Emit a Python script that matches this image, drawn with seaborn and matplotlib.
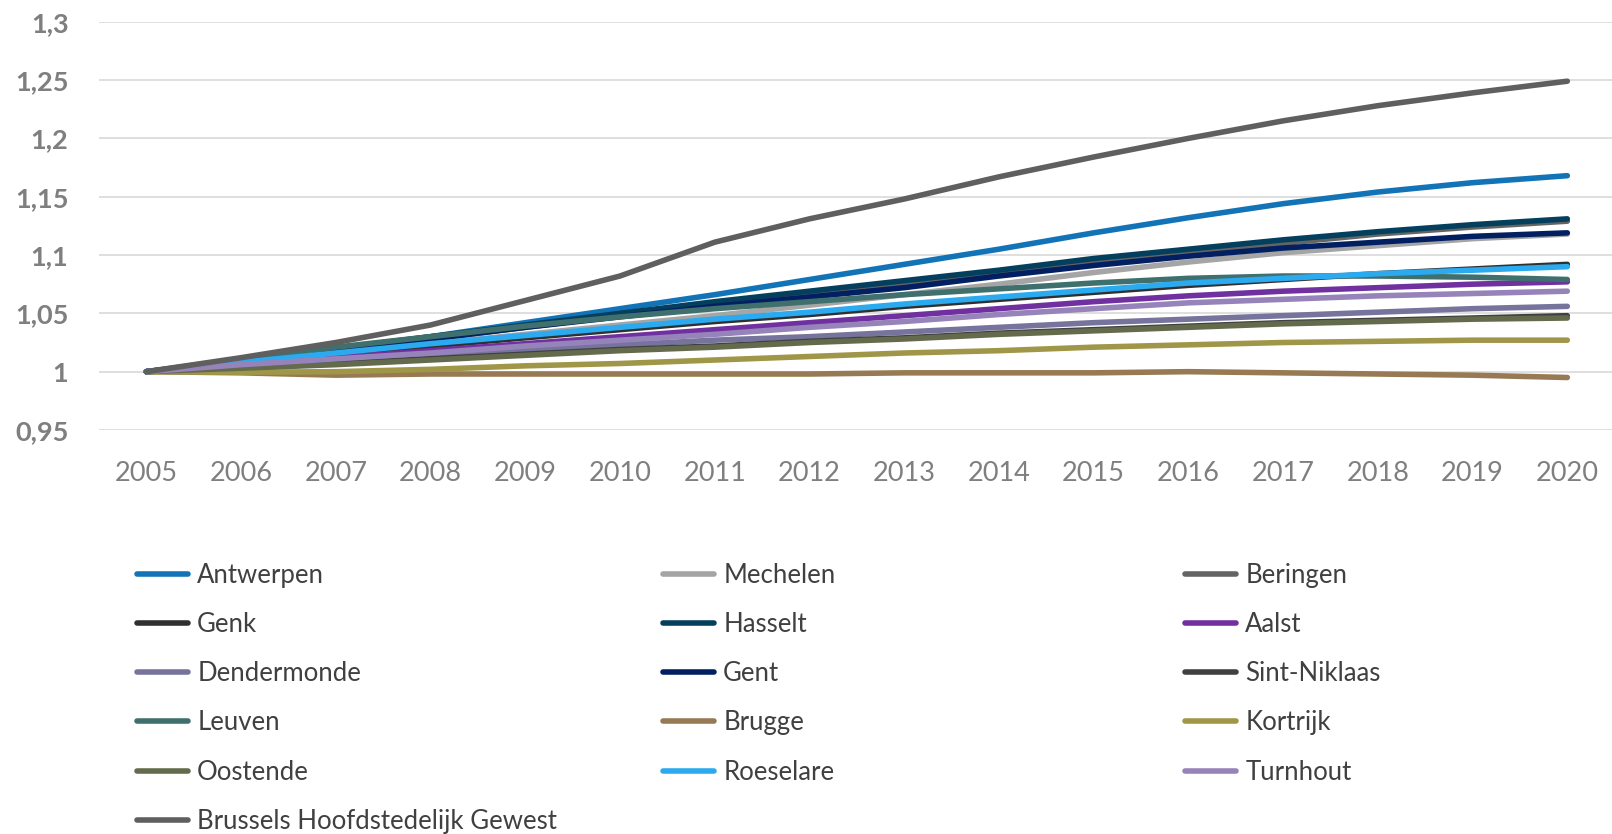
import matplotlib
matplotlib.use("Agg")
import matplotlib.pyplot as plt
from matplotlib.lines import Line2D
import seaborn as sns
import pandas as pd

years = list(range(2005, 2021))

antwerpen = [1.000, 1.009, 1.019, 1.030, 1.042, 1.054, 1.066, 1.079, 1.092, 1.105, 1.119, 1.132, 1.144, 1.154, 1.162, 1.168]
mechelen = [1.000, 1.008, 1.016, 1.024, 1.032, 1.040, 1.048, 1.057, 1.066, 1.075, 1.085, 1.094, 1.102, 1.108, 1.114, 1.118]
beringen = [1.000, 1.009, 1.019, 1.028, 1.038, 1.048, 1.057, 1.066, 1.075, 1.084, 1.093, 1.102, 1.110, 1.118, 1.124, 1.129]
genk = [1.000, 1.007, 1.014, 1.022, 1.029, 1.036, 1.043, 1.049, 1.056, 1.062, 1.068, 1.074, 1.079, 1.084, 1.088, 1.092]
hasselt = [1.000, 1.010, 1.020, 1.030, 1.040, 1.050, 1.060, 1.069, 1.078, 1.087, 1.097, 1.105, 1.113, 1.120, 1.126, 1.131]
aalst = [1.000, 1.006, 1.012, 1.018, 1.024, 1.030, 1.036, 1.042, 1.048, 1.054, 1.060, 1.065, 1.069, 1.072, 1.075, 1.077]
dendermonde = [1.000, 1.004, 1.009, 1.014, 1.019, 1.023, 1.027, 1.030, 1.034, 1.038, 1.042, 1.045, 1.048, 1.051, 1.054, 1.056]
gent = [1.000, 1.009, 1.019, 1.028, 1.038, 1.047, 1.056, 1.064, 1.072, 1.082, 1.091, 1.099, 1.106, 1.111, 1.116, 1.119]
sint_niklaas = [1.000, 1.003, 1.007, 1.011, 1.015, 1.019, 1.022, 1.026, 1.029, 1.033, 1.036, 1.039, 1.042, 1.044, 1.046, 1.048]
leuven = [1.000, 1.011, 1.021, 1.030, 1.039, 1.047, 1.054, 1.060, 1.066, 1.071, 1.076, 1.080, 1.082, 1.082, 1.081, 1.079]
brugge = [1.000, 0.999, 0.997, 0.998, 0.998, 0.998, 0.998, 0.998, 0.999, 0.999, 0.999, 1.000, 0.999, 0.998, 0.997, 0.995]
kortrijk = [1.000, 0.9995, 1.000, 1.002, 1.005, 1.007, 1.010, 1.013, 1.016, 1.018, 1.021, 1.023, 1.025, 1.026, 1.027, 1.027]
oostende = [1.000, 1.003, 1.006, 1.010, 1.014, 1.018, 1.021, 1.025, 1.028, 1.032, 1.035, 1.038, 1.041, 1.043, 1.045, 1.046]
roeselare = [1.000, 1.008, 1.016, 1.024, 1.031, 1.038, 1.045, 1.051, 1.058, 1.064, 1.070, 1.076, 1.080, 1.084, 1.087, 1.090]
turnhout = [1.000, 1.006, 1.011, 1.016, 1.022, 1.027, 1.032, 1.038, 1.043, 1.049, 1.054, 1.059, 1.062, 1.065, 1.067, 1.069]
brussel = [1.000, 1.012, 1.025, 1.040, 1.061, 1.082, 1.111, 1.131, 1.148, 1.167, 1.184, 1.200, 1.215, 1.228, 1.239, 1.249]

regions = ["Antwerpen", "Mechelen", "Beringen", "Genk", "Hasselt", "Aalst",
           "Dendermonde", "Gent", "Sint-Niklaas", "Leuven", "Brugge", "Kortrijk",
           "Oostende", "Roeselare", "Turnhout", "Brussels Hoofdstedelijk Gewest"]
series = [antwerpen, mechelen, beringen, genk, hasselt, aalst, dendermonde, gent,
          sint_niklaas, leuven, brugge, kortrijk, oostende, roeselare, turnhout, brussel]
colors = ["#1274B7", "#A5A5A5", "#646464", "#303030", "#053F5E", "#7030A0",
          "#76739D", "#022061", "#404040", "#3F706D", "#977A53", "#9F9648",
          "#636B4C", "#2BAAF0", "#9583B9", "#5F5F5F"]

y_ticks = [0.95, 1.0, 1.05, 1.1, 1.15, 1.2, 1.25, 1.3]
y_tick_labels = ["0,95", "1", "1,05", "1,1", "1,15", "1,2", "1,25", "1,3"]

df = pd.DataFrame(
    [(r, y, v) for r, vals in zip(regions, series) for y, v in zip(years, vals)],
    columns=["regio", "jaar", "index"],
)

sns.set_theme(style="white")
plt.rcParams["font.family"] = ["Lato", "DejaVu Sans"]

W, H = 1612, 834
fig = plt.figure(figsize=(W / 100, H / 100), dpi=100)
ax = fig.add_axes([99 / W, 1 - 430 / H, (W - 99) / W, (430 - 21.7) / H])

sns.lineplot(data=df, x="jaar", y="index", hue="regio", hue_order=regions,
             palette=dict(zip(regions, colors)), linewidth=4.0, sort=False,
             legend=False, ax=ax, solid_capstyle="round", solid_joinstyle="round")

ax.set_xlim(2004.5, 2004.5 + (W - 99) / 94.73)
ax.set_ylim(0.95, 1.3)
ax.set_yticks(y_ticks)
ax.set_yticklabels(y_tick_labels, fontsize=19.5, fontweight="bold", color="#7F7F7F")
ax.set_xticks(years)
ax.set_xticklabels([str(y) for y in years], fontsize=19.5, color="#7F7F7F")
ax.tick_params(axis="both", length=0)
ax.tick_params(axis="y", pad=22)
ax.tick_params(axis="x", pad=22)
ax.yaxis.grid(True, color="#D9D9D9", linewidth=1.2)
ax.set_axisbelow(True)
for s in ax.spines.values():
    s.set_visible(False)
ax.set_xlabel("")
ax.set_ylabel("")

# Legend laid out row by row in three columns
handles = [Line2D([0], [0], color=c, linewidth=4.0, solid_capstyle="round") for c in colors]
col_x = [137, 663, 1185]
for ci in range(3):
    idx = list(range(ci, len(regions), 3))
    leg = fig.legend([handles[i] for i in idx], [regions[i] for i in idx],
                     loc="upper left", bbox_to_anchor=(col_x[ci] / W, 1 - 563 / H),
                     frameon=False, fontsize=18.5, handlelength=2.0, handletextpad=0.34,
                     labelspacing=0.94, borderpad=0, borderaxespad=0)
    for t in leg.get_texts():
        t.set_color("#404040")

fig.savefig("out.png", dpi=100)
